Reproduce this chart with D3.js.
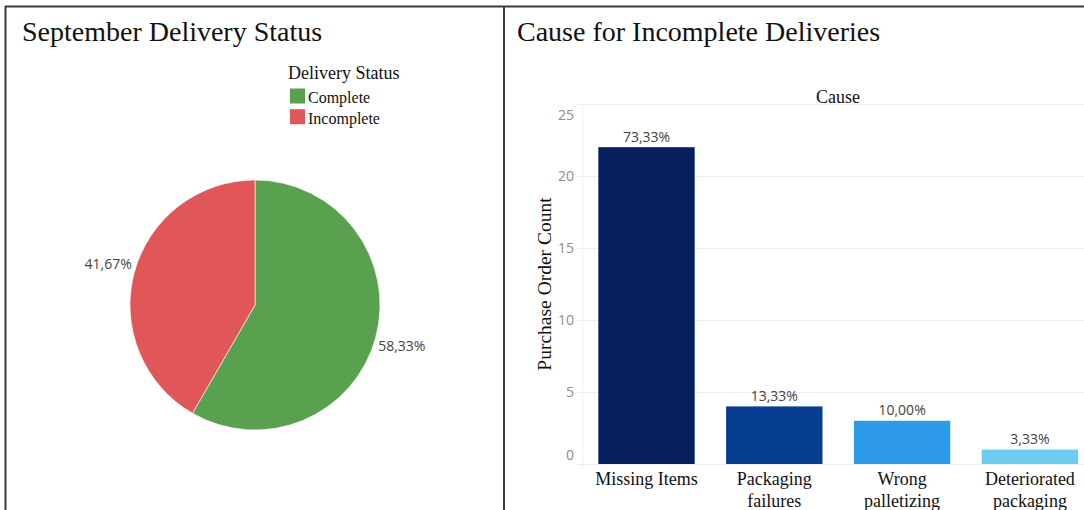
<!DOCTYPE html>
<html>
<head>
<meta charset="utf-8">
<script src="https://cdn.jsdelivr.net/npm/d3@7"></script>
<style>
  html, body { margin: 0; padding: 0; background: #fff; }
  svg { display: block; }
  .serif { font-family: "Liberation Serif", "Times New Roman", serif; fill: #111; }
  .sans { font-family: "Open Sans", "DejaVu Sans", sans-serif; }
</style>
</head>
<body>
<svg id="chart" width="1084" height="510"></svg>
<script>
// Delivery status for September
const statusLabels = ["Complete", "Incomplete"];
const statusCounts = [42, 30];
const statusColors = ["#59a14f", "#e15759"];

// Causes behind the incomplete deliveries
const causeLabels = [["Missing Items"], ["Packaging", "failures"], ["Wrong", "palletizing"], ["Deteriorated", "packaging"]];
const causeCounts = [22, 4, 3, 1];
const causeColors = ["#061f5e", "#073e92", "#2e9bea", "#6ccdee"];

const yTicks = [0, 5, 10, 15, 20, 25];

const pct = (v, total) => (v / total * 100).toFixed(2).replace(".", ",") + "%";

const svg = d3.select("#chart");

// Panel frames
const frame = svg.append("g").attr("stroke", "#3c3c3c").attr("stroke-width", 2).attr("fill", "none");
frame.append("line").attr("x1", 5).attr("x2", 1084).attr("y1", 6.5).attr("y2", 6.5);
frame.append("line").attr("x1", 5.5).attr("x2", 5.5).attr("y1", 6).attr("y2", 510);
frame.append("line").attr("x1", 504).attr("x2", 504).attr("y1", 6).attr("y2", 510);

// ---------- Left panel: pie ----------
svg.append("text").attr("class", "serif")
  .attr("x", 22).attr("y", 41).attr("font-size", 28)
  .text("September Delivery Status");

const legend = svg.append("g");
legend.append("text").attr("class", "serif")
  .attr("x", 288).attr("y", 78.5).attr("font-size", 18)
  .text("Delivery Status");
statusLabels.forEach((lab, i) => {
  legend.append("rect")
    .attr("x", 290).attr("y", 88.5 + i * 20.7)
    .attr("width", 15).attr("height", 15)
    .attr("fill", statusColors[i]);
  legend.append("text").attr("class", "serif")
    .attr("x", 308).attr("y", 103 + i * 20.7).attr("font-size", 16)
    .text(lab);
});

const cx = 255, cy = 305, R = 125;
const statusTotal = d3.sum(statusCounts);
const pie = d3.pie().sort(null).value(d => d)(statusCounts);
const arc = d3.arc().innerRadius(0).outerRadius(R);

const pieG = svg.append("g").attr("transform", `translate(${cx},${cy})`);
pieG.selectAll("path").data(pie).join("path")
  .attr("d", arc)
  .attr("fill", (d, i) => statusColors[i])
  .attr("stroke", "#fff").attr("stroke-width", 0.6);

// Percent labels sit just outside the rim, slightly turned along the slice
const labelR = 130, labelTurn = 0.063;
pieG.selectAll("text").data(pie).join("text")
  .attr("class", "sans")
  .each(function (d, i) {
    const a = (d.startAngle + d.endAngle) / 2 + labelTurn;
    const x = labelR * Math.sin(a), y = -labelR * Math.cos(a);
    d3.select(this)
      .attr("x", x).attr("y", y + 5)
      .attr("text-anchor", Math.sin(a) < 0 ? "end" : "start");
  })
  .attr("font-size", 14).attr("fill", "#444")
  .text(d => pct(d.data, statusTotal));

// ---------- Right panel: bar chart ----------
svg.append("text").attr("class", "serif")
  .attr("x", 517).attr("y", 41).attr("font-size", 28)
  .text("Cause for Incomplete Deliveries");

const x = d3.scaleBand()
  .domain(d3.range(causeCounts.length))
  .range([578, 1098.4])
  .paddingInner(0.246)
  .paddingOuter(0.159);
const y = d3.scaleLinear().domain([0, 25]).range([464, 104]);

const plotLeft = 577;
const yAxis = svg.append("g")
  .attr("transform", `translate(${plotLeft},0)`)
  .call(d3.axisLeft(y).tickValues(yTicks).tickSize(-(1084 - plotLeft)).tickPadding(3));
yAxis.select(".domain").remove();
yAxis.selectAll(".tick line").attr("stroke", "#eeeeee");
// End labels are kept inside the plot area
const yMin = d3.min(yTicks), yMax = d3.max(yTicks);
yAxis.selectAll(".tick text")
  .attr("font-family", "\"Open Sans\", \"DejaVu Sans\", sans-serif")
  .attr("font-size", 14).attr("fill", "#8e8e8e")
  .attr("y", d => d === yMin ? -9 : d === yMax ? 11 : 0)
  .attr("dy", "0.32em");

svg.append("line")
  .attr("x1", 583).attr("x2", 583).attr("y1", 104).attr("y2", 468)
  .attr("stroke", "#f1f1f1");

svg.append("text").attr("class", "serif")
  .attr("x", 838).attr("y", 103).attr("font-size", 18)
  .attr("text-anchor", "middle")
  .text("Cause");

svg.append("text").attr("class", "serif")
  .attr("transform", `translate(551,284) rotate(-90)`)
  .attr("font-size", 19.5).attr("text-anchor", "middle")
  .text("Purchase Order Count");

const causeTotal = d3.sum(causeCounts);
const bars = svg.append("g");
bars.selectAll("rect").data(causeCounts).join("rect")
  .attr("x", (d, i) => x(i))
  .attr("y", d => y(d))
  .attr("width", x.bandwidth())
  .attr("height", d => y(0) - y(d))
  .attr("fill", (d, i) => causeColors[i]);

bars.selectAll("text.value").data(causeCounts).join("text")
  .attr("class", "value sans")
  .attr("x", (d, i) => x(i) + x.bandwidth() / 2)
  .attr("y", d => y(d) - 5.5)
  .attr("text-anchor", "middle")
  .attr("font-size", 14).attr("fill", "#444")
  .text(d => pct(d, causeTotal));

const xLabels = svg.append("g");
causeLabels.forEach((lines, i) => {
  const t = xLabels.append("text").attr("class", "serif")
    .attr("x", x(i) + x.bandwidth() / 2)
    .attr("y", 485)
    .attr("font-size", 18)
    .attr("text-anchor", "middle");
  lines.forEach((ln, j) => {
    t.append("tspan")
      .attr("x", x(i) + x.bandwidth() / 2)
      .attr("dy", j === 0 ? 0 : 22)
      .text(ln);
  });
});
</script>
</body>
</html>
